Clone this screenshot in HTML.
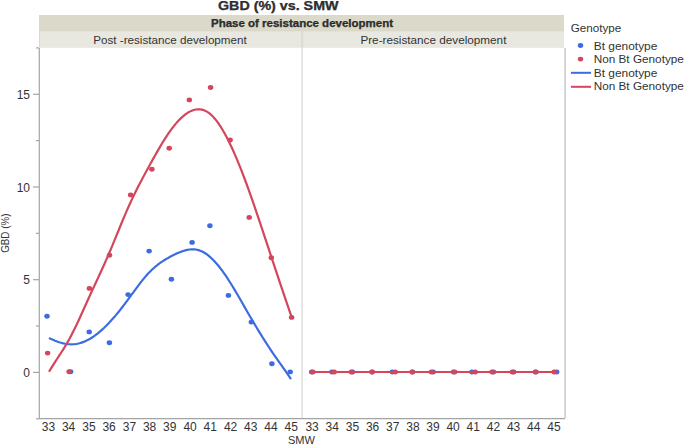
<!DOCTYPE html>
<html><head><meta charset="utf-8"><style>
html,body{margin:0;padding:0;background:#fff;}
body{width:685px;height:445px;overflow:hidden;position:relative;}
svg{position:absolute;left:0;top:0;}
text{font-family:"Liberation Sans",sans-serif;fill:#333;}
.t{font-size:12px;}
.ax{stroke:#a4a4a4;stroke-width:1.2;}
</style></head><body>
<svg width="685" height="445" viewBox="0 0 685 445">
<text x="218" y="9.8" font-size="12" font-weight="bold" fill="#111" stroke="#111" stroke-width="0.25" textLength="120.5" lengthAdjust="spacingAndGlyphs">GBD (%) vs. SMW</text>
<rect x="39" y="15" width="525" height="32.5" fill="#dbd9ca"/>
<text x="211" y="26.8" font-size="10" font-weight="bold" fill="#111" stroke="#111" stroke-width="0.25" textLength="182" lengthAdjust="spacingAndGlyphs">Phase of resistance development</text>
<rect x="40" y="31.4" width="261" height="15.6" fill="#e8e8e0"/>
<rect x="303.2" y="31.4" width="260.8" height="15.6" fill="#e8e8e0"/>
<text x="93.2" y="44.1" font-size="10.5" fill="#333" textLength="153.6" lengthAdjust="spacingAndGlyphs">Post -resistance development</text>
<text x="360.4" y="44.1" font-size="10.5" fill="#333" textLength="146" lengthAdjust="spacingAndGlyphs">Pre-resistance development</text>
<line x1="302.1" y1="31.4" x2="302.1" y2="418" stroke="#dedede" stroke-width="1.5"/>
<line x1="565.1" y1="48" x2="565.1" y2="418" stroke="#c0c0c0" stroke-width="1.3"/>
<line x1="39.3" y1="47.9" x2="39.3" y2="419" class="ax"/>
<line x1="39" y1="418.6" x2="565" y2="418.6" class="ax"/>
<line x1="33" y1="372.4" x2="39" y2="372.4" class="ax"/><text x="30" y="377.1" text-anchor="end" class="t">0</text><line x1="33" y1="279.7" x2="39" y2="279.7" class="ax"/><text x="30" y="284.4" text-anchor="end" class="t">5</text><line x1="33" y1="187.0" x2="39" y2="187.0" class="ax"/><text x="30" y="191.7" text-anchor="end" class="t">10</text><line x1="33" y1="94.3" x2="39" y2="94.3" class="ax"/><text x="30" y="99.0" text-anchor="end" class="t">15</text><line x1="36" y1="418.8" x2="39" y2="418.8" class="ax"/><line x1="36" y1="326.0" x2="39" y2="326.0" class="ax"/><line x1="36" y1="233.3" x2="39" y2="233.3" class="ax"/><line x1="36" y1="140.6" x2="39" y2="140.6" class="ax"/><line x1="36" y1="47.9" x2="39" y2="47.9" class="ax"/>
<text x="48.4" y="430.6" text-anchor="middle" class="t">33</text><text x="312.1" y="430.6" text-anchor="middle" class="t">33</text><text x="68.6" y="430.6" text-anchor="middle" class="t">34</text><text x="332.2" y="430.6" text-anchor="middle" class="t">34</text><text x="88.9" y="430.6" text-anchor="middle" class="t">35</text><text x="352.4" y="430.6" text-anchor="middle" class="t">35</text><text x="109.1" y="430.6" text-anchor="middle" class="t">36</text><text x="372.6" y="430.6" text-anchor="middle" class="t">36</text><text x="129.4" y="430.6" text-anchor="middle" class="t">37</text><text x="392.7" y="430.6" text-anchor="middle" class="t">37</text><text x="149.6" y="430.6" text-anchor="middle" class="t">38</text><text x="412.9" y="430.6" text-anchor="middle" class="t">38</text><text x="169.8" y="430.6" text-anchor="middle" class="t">39</text><text x="433.0" y="430.6" text-anchor="middle" class="t">39</text><text x="190.1" y="430.6" text-anchor="middle" class="t">40</text><text x="453.1" y="430.6" text-anchor="middle" class="t">40</text><text x="210.3" y="430.6" text-anchor="middle" class="t">41</text><text x="473.3" y="430.6" text-anchor="middle" class="t">41</text><text x="230.6" y="430.6" text-anchor="middle" class="t">42</text><text x="493.5" y="430.6" text-anchor="middle" class="t">42</text><text x="250.8" y="430.6" text-anchor="middle" class="t">43</text><text x="513.6" y="430.6" text-anchor="middle" class="t">43</text><text x="271.0" y="430.6" text-anchor="middle" class="t">44</text><text x="533.8" y="430.6" text-anchor="middle" class="t">44</text><text x="291.3" y="430.6" text-anchor="middle" class="t">45</text><text x="553.9" y="430.6" text-anchor="middle" class="t">45</text>
<text x="301.4" y="443.5" text-anchor="middle" font-size="10.5" fill="#333" textLength="27" lengthAdjust="spacingAndGlyphs">SMW</text>
<text transform="translate(9.0,252.8) rotate(-90)" font-size="10.5" fill="#333" textLength="39.2" lengthAdjust="spacingAndGlyphs">GBD (%)</text>
<path d="M49.00,337.95 L51.03,338.93 L53.07,339.85 L55.10,340.70 L57.13,341.49 L59.17,342.19 L61.20,342.80 L63.24,343.32 L65.27,343.74 L67.30,344.05 L69.34,344.25 L71.37,344.31 L73.40,344.25 L75.44,344.05 L77.47,343.71 L79.50,343.24 L81.54,342.63 L83.57,341.90 L85.61,341.03 L87.64,340.04 L89.67,338.94 L91.71,337.71 L93.74,336.37 L95.77,334.91 L97.81,333.35 L99.84,331.68 L101.87,329.90 L103.91,328.03 L105.94,326.06 L107.97,324.00 L110.01,321.85 L112.04,319.61 L114.08,317.30 L116.11,314.91 L118.14,312.44 L120.18,309.90 L122.21,307.30 L124.24,304.64 L126.28,301.92 L128.31,299.16 L130.34,296.37 L132.38,293.58 L134.41,290.80 L136.45,288.05 L138.48,285.34 L140.51,282.69 L142.55,280.13 L144.58,277.65 L146.61,275.29 L148.65,273.06 L150.68,270.97 L152.71,269.02 L154.75,267.20 L156.78,265.51 L158.82,263.93 L160.85,262.45 L162.88,261.07 L164.92,259.78 L166.95,258.57 L168.98,257.42 L171.02,256.33 L173.05,255.30 L175.08,254.30 L177.12,253.36 L179.15,252.47 L181.18,251.66 L183.22,250.94 L185.25,250.34 L187.29,249.85 L189.32,249.51 L191.35,249.32 L193.39,249.30 L195.42,249.47 L197.45,249.84 L199.49,250.42 L201.52,251.24 L203.55,252.27 L205.59,253.52 L207.62,254.97 L209.66,256.62 L211.69,258.46 L213.72,260.48 L215.76,262.67 L217.79,265.03 L219.82,267.55 L221.86,270.22 L223.89,273.03 L225.92,275.98 L227.96,279.05 L229.99,282.23 L232.03,285.50 L234.06,288.86 L236.09,292.28 L238.13,295.76 L240.16,299.27 L242.19,302.81 L244.23,306.36 L246.26,309.92 L248.29,313.45 L250.33,316.96 L252.36,320.43 L254.40,323.87 L256.43,327.27 L258.46,330.63 L260.50,333.94 L262.53,337.22 L264.56,340.44 L266.60,343.62 L268.63,346.75 L270.66,349.82 L272.70,352.85 L274.73,355.82 L276.76,358.73 L278.80,361.62 L280.83,364.48 L282.87,367.34 L284.90,370.20 L286.93,373.10 L288.97,376.03 L291.00,379.02" fill="none" stroke="#3d6ce0" stroke-width="2.2" stroke-linejoin="round"/>
<path d="M49.00,371.77 L51.04,368.35 L53.08,365.06 L55.12,361.88 L57.16,358.75 L59.20,355.64 L61.24,352.51 L63.28,349.32 L65.32,346.03 L67.36,342.59 L69.39,338.96 L71.43,335.14 L73.47,331.12 L75.51,326.95 L77.55,322.66 L79.59,318.26 L81.63,313.79 L83.67,309.27 L85.71,304.74 L87.75,300.22 L89.79,295.74 L91.83,291.30 L93.87,286.90 L95.91,282.51 L97.95,278.11 L99.99,273.70 L102.03,269.25 L104.07,264.74 L106.11,260.17 L108.15,255.50 L110.18,250.73 L112.22,245.87 L114.26,240.93 L116.30,235.95 L118.34,230.96 L120.38,225.98 L122.42,221.04 L124.46,216.17 L126.50,211.40 L128.54,206.75 L130.58,202.25 L132.62,197.89 L134.66,193.67 L136.70,189.56 L138.74,185.56 L140.78,181.64 L142.82,177.79 L144.86,173.99 L146.90,170.24 L148.94,166.52 L150.97,162.81 L153.01,159.12 L155.05,155.47 L157.09,151.88 L159.13,148.35 L161.17,144.90 L163.21,141.54 L165.25,138.30 L167.29,135.17 L169.33,132.18 L171.37,129.34 L173.41,126.65 L175.45,124.13 L177.49,121.77 L179.53,119.60 L181.57,117.61 L183.61,115.81 L185.65,114.20 L187.69,112.81 L189.73,111.63 L191.76,110.67 L193.80,109.95 L195.84,109.47 L197.88,109.24 L199.92,109.29 L201.96,109.61 L204.00,110.22 L206.04,111.13 L208.08,112.35 L210.12,113.90 L212.16,115.76 L214.20,117.94 L216.24,120.41 L218.28,123.16 L220.32,126.19 L222.36,129.47 L224.40,133.00 L226.44,136.76 L228.48,140.75 L230.52,144.94 L232.55,149.32 L234.59,153.90 L236.63,158.65 L238.67,163.57 L240.71,168.65 L242.75,173.88 L244.79,179.25 L246.83,184.75 L248.87,190.37 L250.91,196.10 L252.95,201.92 L254.99,207.84 L257.03,213.83 L259.07,219.88 L261.11,225.98 L263.15,232.12 L265.19,238.28 L267.23,244.46 L269.27,250.64 L271.31,256.81 L273.34,262.96 L275.38,269.10 L277.42,275.22 L279.46,281.32 L281.50,287.39 L283.54,293.43 L285.58,299.45 L287.62,305.42 L289.66,311.36 L291.70,317.26" fill="none" stroke="#d4465c" stroke-width="2.2" stroke-linejoin="round"/>
<ellipse cx="47.0" cy="316.2" rx="2.75" ry="2.45" fill="#3d6ce0"/>
<ellipse cx="70.6" cy="371.7" rx="2.75" ry="2.45" fill="#3d6ce0"/>
<ellipse cx="89.2" cy="331.9" rx="2.75" ry="2.45" fill="#3d6ce0"/>
<ellipse cx="109.4" cy="342.7" rx="2.75" ry="2.45" fill="#3d6ce0"/>
<ellipse cx="128.1" cy="294.6" rx="2.75" ry="2.45" fill="#3d6ce0"/>
<ellipse cx="149.1" cy="251.1" rx="2.75" ry="2.45" fill="#3d6ce0"/>
<ellipse cx="171.4" cy="279.3" rx="2.75" ry="2.45" fill="#3d6ce0"/>
<ellipse cx="192.1" cy="242.4" rx="2.75" ry="2.45" fill="#3d6ce0"/>
<ellipse cx="209.9" cy="225.8" rx="2.75" ry="2.45" fill="#3d6ce0"/>
<ellipse cx="228.4" cy="295.4" rx="2.75" ry="2.45" fill="#3d6ce0"/>
<ellipse cx="251.3" cy="322.1" rx="2.75" ry="2.45" fill="#3d6ce0"/>
<ellipse cx="271.9" cy="363.7" rx="2.75" ry="2.45" fill="#3d6ce0"/>
<ellipse cx="290.2" cy="371.9" rx="2.75" ry="2.45" fill="#3d6ce0"/>
<ellipse cx="47.6" cy="353.1" rx="2.75" ry="2.45" fill="#d4465c"/>
<ellipse cx="69.1" cy="371.7" rx="2.75" ry="2.45" fill="#d4465c"/>
<ellipse cx="89.4" cy="288.4" rx="2.75" ry="2.45" fill="#d4465c"/>
<ellipse cx="109.5" cy="255.2" rx="2.75" ry="2.45" fill="#d4465c"/>
<ellipse cx="130.6" cy="194.9" rx="2.75" ry="2.45" fill="#d4465c"/>
<ellipse cx="151.9" cy="169.2" rx="2.75" ry="2.45" fill="#d4465c"/>
<ellipse cx="169.2" cy="148.2" rx="2.75" ry="2.45" fill="#d4465c"/>
<ellipse cx="189.3" cy="99.9" rx="2.75" ry="2.45" fill="#d4465c"/>
<ellipse cx="210.6" cy="87.5" rx="2.75" ry="2.45" fill="#d4465c"/>
<ellipse cx="230.1" cy="140.0" rx="2.75" ry="2.45" fill="#d4465c"/>
<ellipse cx="249.2" cy="217.4" rx="2.75" ry="2.45" fill="#d4465c"/>
<ellipse cx="271.3" cy="257.8" rx="2.75" ry="2.45" fill="#d4465c"/>
<ellipse cx="291.6" cy="317.4" rx="2.75" ry="2.45" fill="#d4465c"/>
<ellipse cx="311.7" cy="372.0" rx="2.75" ry="2.45" fill="#3d6ce0"/>
<ellipse cx="331.9" cy="372.0" rx="2.75" ry="2.45" fill="#3d6ce0"/>
<ellipse cx="352.5" cy="372.0" rx="2.75" ry="2.45" fill="#3d6ce0"/>
<ellipse cx="372.0" cy="372.0" rx="2.75" ry="2.45" fill="#3d6ce0"/>
<ellipse cx="392.3" cy="372.0" rx="2.75" ry="2.45" fill="#3d6ce0"/>
<ellipse cx="412.5" cy="372.0" rx="2.75" ry="2.45" fill="#3d6ce0"/>
<ellipse cx="433.1" cy="372.0" rx="2.75" ry="2.45" fill="#3d6ce0"/>
<ellipse cx="453.5" cy="372.0" rx="2.75" ry="2.45" fill="#3d6ce0"/>
<ellipse cx="471.9" cy="372.0" rx="2.75" ry="2.45" fill="#3d6ce0"/>
<ellipse cx="493.5" cy="372.0" rx="2.75" ry="2.45" fill="#3d6ce0"/>
<ellipse cx="513.7" cy="372.0" rx="2.75" ry="2.45" fill="#3d6ce0"/>
<ellipse cx="536.0" cy="372.0" rx="2.75" ry="2.45" fill="#3d6ce0"/>
<ellipse cx="556.7" cy="372.0" rx="2.75" ry="2.45" fill="#3d6ce0"/>
<line x1="312.5" y1="372.0" x2="554.2" y2="372.0" stroke="#3d6ce0" stroke-width="2.2"/>
<line x1="312.5" y1="372.0" x2="554.2" y2="372.0" stroke="#d4465c" stroke-width="2.2"/>
<ellipse cx="312.8" cy="372.0" rx="2.75" ry="2.45" fill="#d4465c"/>
<ellipse cx="334.2" cy="372.0" rx="2.75" ry="2.45" fill="#d4465c"/>
<ellipse cx="351.4" cy="372.0" rx="2.75" ry="2.45" fill="#d4465c"/>
<ellipse cx="372.2" cy="372.0" rx="2.75" ry="2.45" fill="#d4465c"/>
<ellipse cx="395.2" cy="372.0" rx="2.75" ry="2.45" fill="#d4465c"/>
<ellipse cx="412.1" cy="372.0" rx="2.75" ry="2.45" fill="#d4465c"/>
<ellipse cx="431.4" cy="372.0" rx="2.75" ry="2.45" fill="#d4465c"/>
<ellipse cx="454.7" cy="372.0" rx="2.75" ry="2.45" fill="#d4465c"/>
<ellipse cx="475.1" cy="372.0" rx="2.75" ry="2.45" fill="#d4465c"/>
<ellipse cx="492.1" cy="372.0" rx="2.75" ry="2.45" fill="#d4465c"/>
<ellipse cx="512.3" cy="372.0" rx="2.75" ry="2.45" fill="#d4465c"/>
<ellipse cx="535.3" cy="372.0" rx="2.75" ry="2.45" fill="#d4465c"/>
<ellipse cx="554.2" cy="372.0" rx="2.75" ry="2.45" fill="#d4465c"/>
<text x="570.7" y="32.4" font-size="10.3" fill="#333" textLength="50.6" lengthAdjust="spacingAndGlyphs">Genotype</text>
<ellipse cx="580.5" cy="45.5" rx="2.75" ry="2.45" fill="#3d6ce0"/>
<ellipse cx="580.5" cy="59.1" rx="2.75" ry="2.45" fill="#d4465c"/>
<line x1="570.9" y1="72.8" x2="591" y2="72.8" stroke="#3d6ce0" stroke-width="2"/>
<line x1="570.9" y1="86.8" x2="591" y2="86.8" stroke="#d4465c" stroke-width="2"/>
<text x="593.7" y="49.6" font-size="10.3" fill="#333" textLength="63.7" lengthAdjust="spacingAndGlyphs">Bt genotype</text>
<text x="593.7" y="63.2" font-size="10.3" fill="#333" textLength="90.2" lengthAdjust="spacingAndGlyphs">Non Bt Genotype</text>
<text x="593.7" y="77.2" font-size="10.3" fill="#333" textLength="63.7" lengthAdjust="spacingAndGlyphs">Bt genotype</text>
<text x="593.7" y="90.3" font-size="10.3" fill="#333" textLength="90.2" lengthAdjust="spacingAndGlyphs">Non Bt Genotype</text>
</svg>
</body></html>
